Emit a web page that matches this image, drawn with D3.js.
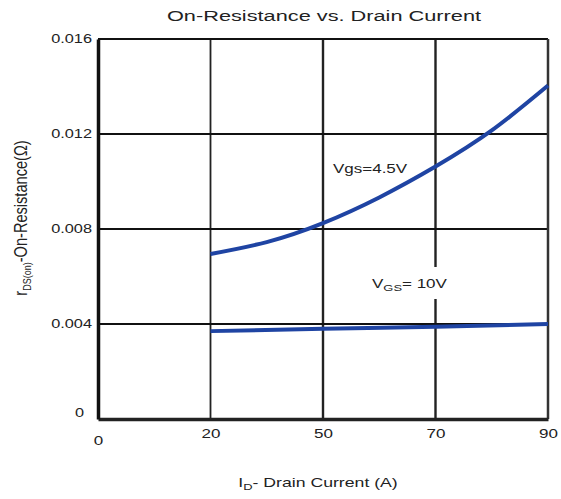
<!DOCTYPE html>
<html>
<head>
<meta charset="utf-8">
<script src="https://cdn.jsdelivr.net/npm/d3@7"></script>
<style>
  body { margin: 0; background: #fff; }
  text { font-family: "Liberation Sans", Arial, sans-serif; fill: #222; }
</style>
</head>
<body>
<svg width="561" height="499"></svg>
<script>
// tick values as printed on the chart
const xTicks = [0, 20, 50, 70, 90];
const yTicks = [0, 0.004, 0.008, 0.012, 0.016];

// VGS = 4.5V curve
const vgs45X = [20, 35, 50, 60, 70, 80, 90];
const vgs45Y = [0.00695, 0.00745, 0.00825, 0.00933, 0.01063, 0.01215, 0.01404];

// VGS = 10V curve
const vgs10X = [20, 50, 70, 90];
const vgs10Y = [0.0037, 0.0038, 0.00388, 0.0040];

const svg = d3.select('svg');
const margin = {top: 39, right: 13, bottom: 80, left: 98};
const width = +svg.attr('width');
const height = +svg.attr('height');
const innerWidth = width - margin.left - margin.right;
const innerHeight = height - margin.top - margin.bottom;
const SX = 1.36; // the original print is stretched sideways

// printed ticks are evenly spaced, so the x scale is piecewise
const xScale = d3.scaleLinear()
  .domain(xTicks)
  .range(xTicks.map((d, i) => i * innerWidth / (xTicks.length - 1)));
const yScale = d3.scaleLinear()
  .domain([0, 0.016])
  .range([innerHeight, 0]);

// place a text at x,y and widen it
const putText = (parent, x, y, size, sx) => parent.append('text')
  .attr('transform', `translate(${x},${y}) scale(${sx},1)`)
  .style('font-size', size + 'px');

const g = svg.append('g')
  .attr('transform', `translate(${margin.left}, ${margin.top})`);

// title
putText(svg, 324, 21, 15, 1.45)
  .attr('text-anchor', 'middle')
  .text('On-Resistance vs. Drain Current');

// grid
g.selectAll('.vgrid').data(xTicks.slice(1, -1))
  .enter().append('line')
    .attr('x1', d => xScale(d)).attr('x2', d => xScale(d))
    .attr('y1', 0).attr('y2', innerHeight)
    .attr('stroke', '#222').attr('stroke-width', (d, i) => i === 0 ? 1.8 : 2.4);
g.selectAll('.hgrid').data(yTicks.slice(1, -1))
  .enter().append('line')
    .attr('x1', 0).attr('x2', innerWidth)
    .attr('y1', d => yScale(d)).attr('y2', d => yScale(d))
    .attr('stroke', '#111').attr('stroke-width', 2);

// frame
g.append('line').attr('x1', 0).attr('x2', innerWidth).attr('y1', 0).attr('y2', 0)
  .attr('stroke', '#111').attr('stroke-width', 2);
g.append('line').attr('x1', innerWidth).attr('x2', innerWidth).attr('y1', 0).attr('y2', innerHeight)
  .attr('stroke', '#333').attr('stroke-width', 2.5);

// axes
const xAxis = g.append('g')
  .attr('transform', `translate(0, ${innerHeight})`)
  .call(d3.axisBottom(xScale).tickValues(xTicks).tickSize(0).tickPadding(12).tickFormat(d3.format('d')));
xAxis.select('.domain').attr('stroke', '#222').attr('stroke-width', 3.5);
xAxis.selectAll('text').style('font-size', '12.5px').attr('fill', '#222')
  .attr('transform', `scale(${SX},1)`)
  .attr('dy', d => d === 0 ? '1.15em' : '0.6em');

const yAxis = g.append('g')
  .call(d3.axisLeft(yScale).tickValues(yTicks).tickSize(0).tickPadding(6)
    .tickFormat(d => d === 0 ? '0' : d3.format('.3f')(d)));
yAxis.select('.domain').attr('stroke', '#111').attr('stroke-width', 3.5);
yAxis.selectAll('text').style('font-size', '12px').attr('fill', '#222')
  .attr('transform', `scale(${SX},1)`)
  .attr('x', d => (d === 0 ? -14 : -6) / SX)
  .attr('dy', d => d === 0 ? '-0.25em' : '0.32em');

// curves
const line = d3.line()
  .x(d => xScale(d[0]))
  .y(d => yScale(d[1]))
  .curve(d3.curveNatural);

g.append('path')
  .datum(d3.zip(vgs45X, vgs45Y))
  .attr('d', line)
  .attr('fill', 'none').attr('stroke', '#1f44a3').attr('stroke-width', 4);

// label background cuts the gridline
g.append('rect')
  .attr('x', 272).attr('y', 228).attr('width', 80).attr('height', 32)
  .attr('fill', '#fff');

g.append('path')
  .datum(d3.zip(vgs10X, vgs10Y))
  .attr('d', line)
  .attr('fill', 'none').attr('stroke', '#1f44a3').attr('stroke-width', 4);

// curve labels
putText(svg, 333, 173, 12.5, SX).text('Vgs=4.5V');

const lab10 = putText(svg, 372, 288, 12.5, SX);
lab10.append('tspan').text('V');
lab10.append('tspan').attr('dy', 3).style('font-size', '9.5px').text('GS');
lab10.append('tspan').attr('dy', -3).text('= 10V');

// axis titles
const xTitle = putText(svg, 318, 487, 13, SX).attr('text-anchor', 'middle');
xTitle.append('tspan').text('I');
xTitle.append('tspan').attr('dy', 3).style('font-size', '9.5px').text('D');
xTitle.append('tspan').attr('dy', -3).text('- Drain Current (A)');

const yTitle = svg.append('text')
  .attr('transform', 'translate(27, 218) scale(1.2,1) rotate(-90)')
  .attr('text-anchor', 'middle')
  .style('font-size', '14.6px');
yTitle.append('tspan').text('r');
yTitle.append('tspan').attr('dy', 3).style('font-size', '9px').text('DS(on)');
yTitle.append('tspan').attr('dy', -3).text('-On-Resistance(Ω)');
</script>
</body>
</html>
